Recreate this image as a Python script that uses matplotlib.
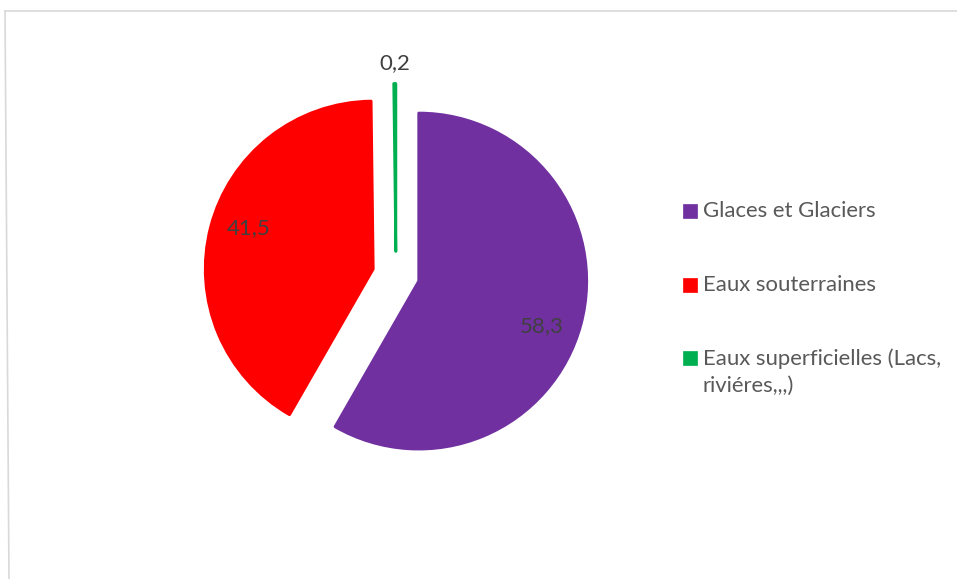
import matplotlib
matplotlib.use("Agg")
import matplotlib.pyplot as plt
from matplotlib.patches import Rectangle
from matplotlib.lines import Line2D
import numpy as np

categories = ["Glaces et Glaciers", "Eaux souterraines", "Eaux superficielles (Lacs,\nrivi\u00e9res,,,)"]
values = [58.3, 41.5, 0.2]
value_labels = ["58,3", "41,5", "0,2"]
colors = ["#7030A0", "#FF0000", "#00B050"]

plt.rcParams["font.family"] = ["Lato", "DejaVu Sans"]

W, H = 957, 579
fig = plt.figure(figsize=(W / 100, H / 100), dpi=100)
ax = fig.add_axes([0, 0, 1, 1])

# pie centre and radius in pixels
cx, cy, R = 396, 275, 168

wedges, _ = ax.pie(values, colors=colors, startangle=90, counterclock=False,
                   explode=[0.14] * len(values), radius=1.0,
                   wedgeprops=dict(linewidth=2.0, joinstyle="round"))
for w, c in zip(wedges, colors):
    w.set_edgecolor(c)

ax.set_xlim(-cx / R, (W - cx) / R)
ax.set_ylim(-(H - cy) / R, cy / R)
ax.set_aspect("equal", adjustable="box")
ax.axis("off")

# value labels (distance from wedge tip, angular nudge in degrees)
label_dist = [0.78, 0.78, 1.12]
label_turn = [-5.0, -3.5, 0.0]
for w, lab, d, t in zip(wedges, value_labels, label_dist, label_turn):
    th = np.deg2rad((w.theta1 + w.theta2) / 2 + t)
    x0, y0 = w.center
    ax.text(x0 + d * np.cos(th), y0 + d * np.sin(th), lab, ha="center", va="center",
            fontsize=16, color="#404040")

# legend
leg_y = [211, 285, 358]
line_px = 29
for cat, col, y in zip(categories, colors, leg_y):
    fig.add_artist(Rectangle((683 / W, 1 - (y + 7) / H), 14 / W, 14 / H,
                             transform=fig.transFigure, facecolor=col,
                             edgecolor=col, linewidth=0.5))
    nlines = cat.count("\n") + 1
    yc = y + (nlines - 1) * line_px / 2
    fig.text(703 / W, 1 - yc / H, cat, ha="left", va="center",
             fontsize=15.9, color="#595959", linespacing=1.42,
             transform=fig.transFigure)

# chart frame
fig.add_artist(Line2D([5 / W, 9 / W], [1 - 11 / H, 0], transform=fig.transFigure,
                      color="#D9D9D9", linewidth=1.2))
fig.add_artist(Line2D([5 / W, 1], [1 - 11 / H, 1 - 11 / H], transform=fig.transFigure,
                      color="#D9D9D9", linewidth=1.2))

fig.savefig("out.png", dpi=100, facecolor="white")
